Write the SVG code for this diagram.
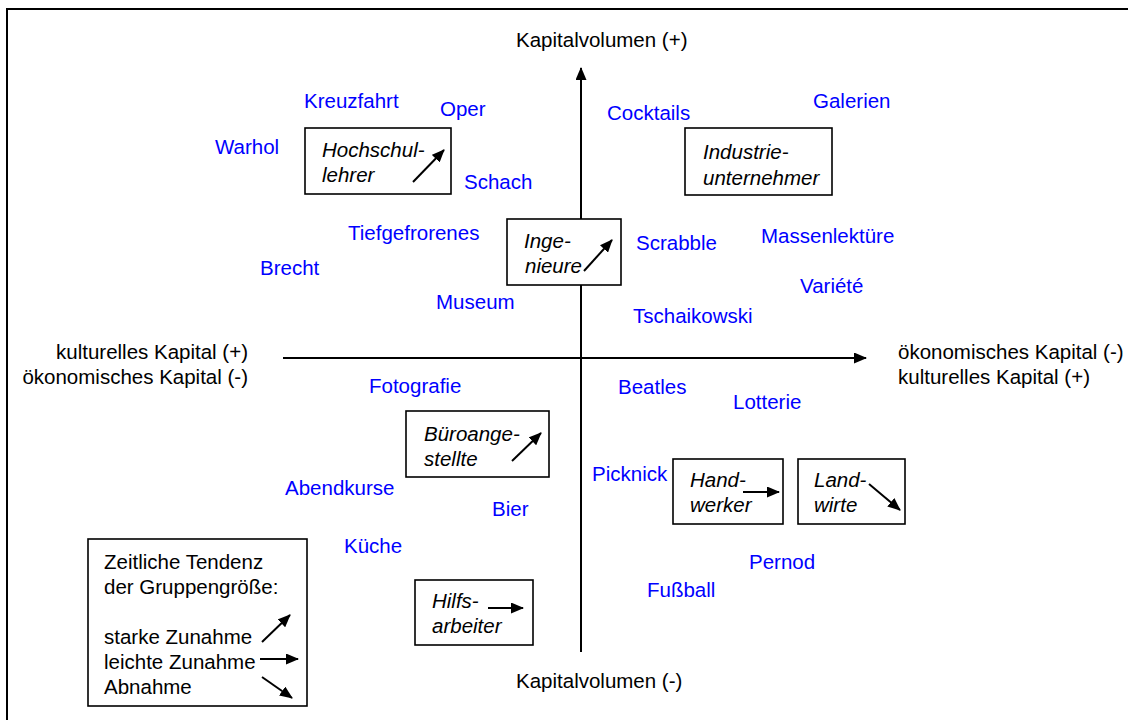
<svg xmlns="http://www.w3.org/2000/svg" width="1128" height="720" viewBox="0 0 1128 720">
  <style>
    text { font-family: "Liberation Sans", Arial, sans-serif; font-size: 20.5px; fill: #000; }
    .item { fill: #0000FF; }
    .grp { font-style: italic; }
    .box { fill: #fff; stroke: #000; stroke-width: 1.6; }
    .axis { stroke: #000; stroke-width: 2; fill: none; }
    .tend { stroke: #000; stroke-width: 2; fill: none; marker-end: url(#head); }
  </style>
  <defs>
    <marker id="head" markerUnits="userSpaceOnUse" markerWidth="13" markerHeight="11" refX="12" refY="5.5" orient="auto">
      <path d="M0,0 L13,5.5 L0,11 z" fill="#000"/>
    </marker>
  </defs>

  <rect x="0" y="0" width="1128" height="720" fill="#fff"/>
  <!-- outer frame -->
  <rect x="7" y="9" width="1135" height="725" fill="none" stroke="#000" stroke-width="2"/>

  <!-- axes -->
  <g id="connectors">
    <line class="axis" x1="581" y1="652" x2="581" y2="68" marker-end="url(#head)"/>
    <line class="axis" x1="283" y1="358" x2="866" y2="358" marker-end="url(#head)"/>
  </g>

  <!-- axis labels -->
  <g id="axis-labels">
    <text x="516" y="47">Kapitalvolumen (+)</text>
    <text x="516" y="688">Kapitalvolumen (-)</text>
    <text x="248" y="359" text-anchor="end">kulturelles Kapital (+)</text>
    <text x="248" y="384" text-anchor="end">ökonomisches Kapital (-)</text>
    <text x="898" y="359">ökonomisches Kapital (-)</text>
    <text x="898" y="384">kulturelles Kapital (+)</text>
  </g>

  <!-- lifestyle items -->
  <g id="items">
    <text class="item" x="304" y="108">Kreuzfahrt</text>
    <text class="item" x="440" y="116">Oper</text>
    <text class="item" x="215" y="154">Warhol</text>
    <text class="item" x="464" y="189">Schach</text>
    <text class="item" x="607" y="120">Cocktails</text>
    <text class="item" x="813" y="108">Galerien</text>
    <text class="item" x="348" y="240">Tiefgefrorenes</text>
    <text class="item" x="260" y="275">Brecht</text>
    <text class="item" x="436" y="309">Museum</text>
    <text class="item" x="636" y="250">Scrabble</text>
    <text class="item" x="761" y="243">Massenlektüre</text>
    <text class="item" x="800" y="293">Variété</text>
    <text class="item" x="633" y="323">Tschaikowski</text>
    <text class="item" x="369" y="393">Fotografie</text>
    <text class="item" x="618" y="394">Beatles</text>
    <text class="item" x="733" y="409">Lotterie</text>
    <text class="item" x="592" y="481">Picknick</text>
    <text class="item" x="285" y="495">Abendkurse</text>
    <text class="item" x="492" y="516">Bier</text>
    <text class="item" x="344" y="553">Küche</text>
    <text class="item" x="749" y="569">Pernod</text>
    <text class="item" x="647" y="597">Fußball</text>
  </g>

  <!-- occupational groups -->
  <g id="hochschullehrer">
    <rect class="box" x="305" y="128" width="146" height="66"/>
    <text class="grp" x="322" y="157">Hochschul-</text>
    <text class="grp" x="322" y="182">lehrer</text>
    <line class="tend" x1="413" y1="182" x2="444" y2="150"/>
  </g>
  <g id="industrieunternehmer">
    <rect class="box" x="685" y="128" width="147" height="67"/>
    <text class="grp" x="703" y="159">Industrie-</text>
    <text class="grp" x="703" y="185">unternehmer</text>
  </g>
  <g id="ingenieure">
    <rect class="box" x="507" y="219" width="114" height="66"/>
    <text class="grp" x="524" y="248">Inge-</text>
    <text class="grp" x="525" y="273">nieure</text>
    <line class="tend" x1="584" y1="271" x2="612" y2="240"/>
  </g>
  <g id="bueroangestellte">
    <rect class="box" x="406" y="411" width="143" height="66"/>
    <text class="grp" x="424" y="441">Büroange-</text>
    <text class="grp" x="424" y="466">stellte</text>
    <line class="tend" x1="512" y1="461" x2="541" y2="433"/>
  </g>
  <g id="handwerker">
    <rect class="box" x="673" y="459" width="110" height="65"/>
    <text class="grp" x="690" y="487">Hand-</text>
    <text class="grp" x="690" y="512">werker</text>
    <line class="tend" x1="743" y1="492" x2="779" y2="492"/>
  </g>
  <g id="landwirte">
    <rect class="box" x="798" y="459" width="107" height="65"/>
    <text class="grp" x="814" y="487">Land-</text>
    <text class="grp" x="814" y="512">wirte</text>
    <line class="tend" x1="869" y1="484" x2="900" y2="510"/>
  </g>
  <g id="hilfsarbeiter">
    <rect class="box" x="415" y="580" width="118" height="65"/>
    <text class="grp" x="432" y="608">Hilfs-</text>
    <text class="grp" x="432" y="633">arbeiter</text>
    <line class="tend" x1="488" y1="608" x2="523" y2="608"/>
  </g>

  <!-- legend -->
  <g id="legend">
    <rect class="box" x="88" y="539" width="219" height="167"/>
    <text x="104" y="569">Zeitliche Tendenz</text>
    <text x="104" y="594">der Gruppengröße:</text>
    <text x="104" y="644">starke Zunahme</text>
    <text x="104" y="669">leichte Zunahme</text>
    <text x="104" y="694">Abnahme</text>
    <line class="tend" x1="262" y1="642" x2="290" y2="615"/>
    <line class="tend" x1="260" y1="659" x2="298" y2="659"/>
    <line class="tend" x1="262" y1="677" x2="292" y2="698"/>
  </g>
</svg>
